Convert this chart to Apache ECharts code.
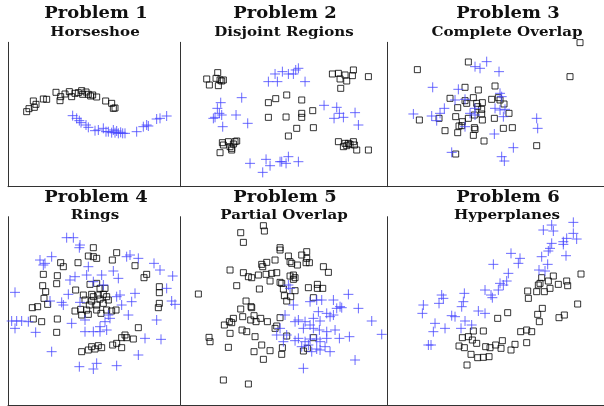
<!DOCTYPE html>
<html>
<head>
<meta charset="utf-8">
<script src="https://cdn.jsdelivr.net/npm/echarts@6/dist/echarts.min.js"></script>
<style>
html,body{margin:0;padding:0;background:#fff;}
#c{width:604px;height:406px;}
</style>
</head>
<body>
<div id="c"></div>
<script>
// Panel titles
var problemTitles = ['Problem 1','Problem 2','Problem 3','Problem 4','Problem 5','Problem 6'];
var problemNames = ['Horseshoe','Disjoint Regions','Complete Overlap','Rings','Partial Overlap','Hyperplanes'];

// Panel data: class A (squares) and class B (plus)
var p1Squares = [[56,225],[63,234],[76,257],[84,247],[79,238],[106,263],[116,262],[144,283],[158,270],[156,258],[171,278],[184,285],[191,270],[201,280],[211,282],[221,288],[224,277],[234,284],[241,277],[248,272],[254,275],[266,269],[293,257],[311,250],[316,235],[321,236]];
var p1Plus = [[194,213],[206,205],[214,198],[219,192],[234,185],[241,178],[261,168],[271,170],[286,175],[294,165],[301,165],[311,162],[316,170],[321,162],[326,167],[331,160],[338,163],[344,160],[351,160],[386,165],[406,180],[416,185],[421,182],[446,203],[456,205],[476,212]];

var p2Squares = [[78,323],[86,305],[106,325],[111,342],[113,303],[118,320],[123,317],[128,320],
  [455,338],[473,340],[478,323],[493,335],[498,317],[515,333],[518,350],[563,330],[480,295],
  [263,252],[285,264],[318,275],[363,260],[263,208],[316,209],[363,220],[363,208],[396,228],[348,175],[398,177],[323,152],
  [125,132],[128,125],[143,135],[148,120],[153,115],[158,128],[163,135],[168,137],[118,102],[153,110],
  [473,135],[488,120],[498,123],[503,130],[508,127],[518,135],[521,125],[528,110],[563,110],[493,130]];
var p2Plus = [[283,338],[305,345],[323,338],[338,338],[345,350],[353,355],[263,315],[290,315],[373,315],
  [120,252],[110,235],[116,220],[123,215],[98,205],[103,208],[166,215],[126,180],[201,190],[183,267],
  [430,244],[468,238],[476,220],[488,208],[523,222],[460,205],[533,185],
  [208,70],[246,43],[256,82],[268,63],[298,75],[303,75],[316,70],[323,90],[353,75]];

var p3Squares = [[89,351],[242,374],[577,432],[547,330],[232,298],[272,290],[322,302],[187,265],[210,237],[232,258],[237,250],[257,267],[267,250],[284,252],[270,240],[282,232],[260,215],[282,218],[312,262],[332,267],[337,260],[349,248],[364,220],[320,205],[284,200],[242,205],[224,195],[204,210],[154,205],[95,200],[214,182],[222,183],[260,177],[262,172],[172,168],[210,162],[257,154],[347,175],[374,177],[289,137],[447,123],[204,98]];
var p3Plus = [[297,375],[262,360],[277,355],[334,345],[135,298],[212,292],[337,280],[342,270],[170,235],[157,220],[202,260],[232,262],[262,235],[322,235],[337,230],[352,232],[347,210],[77,218],[132,212],[147,198],[247,220],[262,215],[232,180],[447,205],[450,175],[320,158],[377,117],[192,103],[342,90],[350,77]];

var p4Squares = [[256,472],[241,447],[256,445],[266,440],[326,457],[313,435],[158,427],[166,415],[210,427],[106,392],[148,388],[146,364],[104,358],[113,340],[108,320],[119,302],[73,292],[89,295],[203,345],[226,330],[246,362],[266,365],[231,315],[251,332],[256,325],[251,312],[271,330],[276,318],[286,332],[296,325],[301,315],[286,305],[266,300],[244,300],[236,285],[218,287],[201,282],[221,270],[241,272],[279,275],[266,285],[296,285],[311,282],[324,285],[381,418],[416,392],[408,382],[454,355],[454,337],[454,305],[451,292],[76,258],[101,250],[148,258],[146,218],[391,232],[351,210],[341,202],[356,202],[376,198],[326,185],[314,180],[341,172],[281,172],[271,178],[261,168],[251,175],[241,165],[221,160],[276,350],[291,350]];
var p4Plus = [[176,502],[196,502],[216,480],[214,472],[131,445],[96,435],[106,420],[111,425],[241,415],[236,390],[201,385],[186,375],[281,390],[316,402],[331,380],[356,445],[366,450],[391,440],[438,425],[456,405],[494,387],[21,338],[181,332],[126,312],[161,308],[166,300],[216,308],[256,370],[286,360],[326,325],[336,330],[381,335],[371,310],[341,300],[476,350],[491,312],[501,302],[446,255],[361,270],[301,270],[306,260],[291,250],[276,235],[231,255],[231,220],[256,220],[276,220],[296,225],[191,245],[11,252],[26,252],[41,252],[61,250],[21,230],[83,218],[131,160],[214,115],[256,108],[266,125],[326,118],[391,150],[411,200],[459,197]];

var p5Squares = [[180,517],[248,538],[251,522],[188,488],[298,472],[298,465],[323,447],[363,450],[378,460],[378,440],[376,427],[386,427],[328,430],[333,425],[350,420],[283,435],[258,428],[243,422],[246,415],[148,405],[188,397],[203,385],[213,382],[233,390],[256,392],[273,395],[288,397],[268,372],[298,368],[303,365],[328,387],[338,390],[343,382],[338,377],[428,415],[443,398],[168,358],[236,348],[308,348],[343,343],[383,352],[410,362],[410,350],[426,350],[311,328],[330,325],[318,312],[398,322],[53,333],[196,312],[211,295],[213,292],[180,288],[220,268],[240,260],[186,265],[158,260],[146,250],[153,247],[131,240],[226,250],[260,250],[210,255],[298,262],[288,237],[283,230],[184,225],[198,220],[148,215],[85,203],[88,190],[223,205],[318,207],[398,202],[243,180],[268,163],[220,160],[305,172],[303,152],[143,173],[248,137],[368,162],[380,170],[128,75],[203,63]];
var p5Plus = [[503,332],[478,295],[483,292],[533,290],[573,252],[603,212],[506,205],[476,200],[523,135],[368,110],[338,300],[323,360],[328,350],[388,310],[408,315],[423,315],[458,315],[413,280],[438,275],[458,270],[468,290],[448,265],[313,270],[353,255],[373,250],[398,260],[418,252],[343,250],[368,230],[388,240],[398,230],[416,225],[438,220],[463,225],[298,230],[318,210],[343,193],[353,200],[373,190],[388,198],[408,198],[418,190],[438,200],[308,190],[288,210],[363,175],[383,180],[408,168],[433,175],[448,160],[418,165],[393,160]];

var p6Squares = [[497,387],[482,372],[462,382],[457,365],[452,360],[470,340],[487,350],[447,340],[420,342],[422,320],[512,362],[537,372],[540,358],[580,393],[570,303],[530,270],[514,262],[464,290],[450,272],[455,250],[360,277],[330,260],[287,222],[257,222],[224,202],[242,205],[254,195],[267,185],[214,177],[230,172],[294,175],[307,172],[324,180],[344,193],[340,170],[370,165],[382,182],[399,220],[417,225],[432,220],[417,187],[250,152],[270,142],[287,143],[304,145],[238,120]];
var p6Plus = [[557,548],[492,540],[467,525],[497,522],[557,515],[537,500],[527,490],[567,498],[492,485],[527,482],[487,470],[482,462],[535,448],[462,445],[480,422],[454,405],[472,402],[370,455],[397,440],[392,425],[317,422],[362,395],[337,365],[347,360],[357,372],[332,345],[292,345],[310,330],[314,322],[230,335],[227,310],[222,295],[162,330],[154,305],[167,320],[107,300],[104,275],[192,268],[202,265],[232,252],[272,282],[292,275],[142,245],[137,220],[172,230],[220,230],[252,240],[122,180],[130,180]];

// Axis extents (data units) per panel (right column is cut at the figure edge)
var xMax = [516, 620, 649, 516, 620, 649];
var yMax = [433, 433, 433, 565, 565, 565];

var squaresAll = [p1Squares,p2Squares,p3Squares,p4Squares,p5Squares,p6Squares];
var plusAll = [p1Plus,p2Plus,p3Plus,p4Plus,p5Plus,p6Plus];

// layout (pixels)
var colLeft = [8, 180.7, 387.7];
var colWidth = [172, 206.7, 216.3];
var rowTop = [42.3, 216.7];
var rowHeight = [144.4, 188.3];
var titleCx = [96, 285, 508];
var titleCy = [13.8, 198.3];
var subCy = [32.8, 216];

var grids = [], xAxes = [], yAxes = [], series = [], graphics = [];
var axisLine = {show:true, lineStyle:{color:'#333', width:1}};
for (var i = 0; i < 6; i++) {
  var r = Math.floor(i/3), c = i % 3;
  grids.push({left: colLeft[c], top: rowTop[r], width: colWidth[c], height: rowHeight[r], containLabel:false});
  xAxes.push({type:'value', gridIndex:i, min:0, max:xMax[i], axisLine:axisLine, axisTick:{show:false}, axisLabel:{show:false}, splitLine:{show:false}});
  yAxes.push({type:'value', gridIndex:i, min:0, max:yMax[i], axisLine:axisLine, axisTick:{show:false}, axisLabel:{show:false}, splitLine:{show:false}});
  series.push({type:'scatter', xAxisIndex:i, yAxisIndex:i, data:squaresAll[i], symbol:'rect', symbolSize:6,
    itemStyle:{color:'rgba(0,0,0,0)', borderColor:'#000', borderWidth:1}, silent:true, animation:false});
  series.push({type:'scatter', xAxisIndex:i, yAxisIndex:i, data:plusAll[i], symbol:'path://M0,5L10,5M5,0L5,10', symbolSize:10,
    itemStyle:{color:'rgba(0,0,0,0)', borderColor:'#4646ff', borderWidth:1}, silent:true, animation:false});
  graphics.push({type:'text', x:titleCx[c], y:titleCy[r], scaleX:1.12, style:{text:problemTitles[i], font:'bold 16px "DejaVu Serif"', fill:'#111', align:'center', verticalAlign:'middle'}});
  graphics.push({type:'text', x:titleCx[c] - 1, y:subCy[r], scaleX:1.16, style:{text:problemNames[i], font:'bold 13px "DejaVu Serif"', fill:'#111', align:'center', verticalAlign:'middle'}});
}

var chart = echarts.init(document.getElementById('c'), null, {renderer:'canvas'});
chart.setOption({
  animation:false,
  backgroundColor:'#fff',
  grid:grids, xAxis:xAxes, yAxis:yAxes, series:series, graphic:graphics
});
</script>
</body>
</html>
